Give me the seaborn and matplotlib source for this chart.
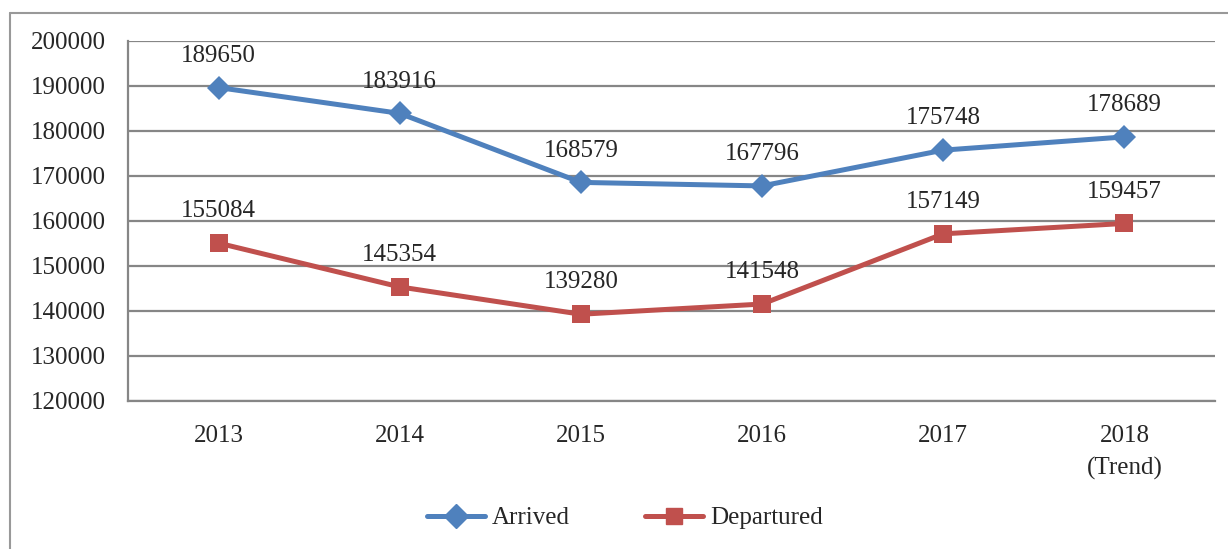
import matplotlib.pyplot as plt
import matplotlib.lines as mlines
import seaborn as sns
import pandas as pd
import numpy as np

sns.set_style('white')
plt.rcParams['font.family'] = ['Liberation Serif', 'DejaVu Serif']

years = ['2013', '2014', '2015', '2016', '2017', '2018\n(Trend)']
arrived = [189650, 183916, 168579, 167796, 175748, 178689]
departured = [155084, 145354, 139280, 141548, 157149, 159457]

blue = '#4F81BD'
red = '#C0504D'
grid_col = '#868686'
mFontSize = 18

df = pd.DataFrame({'year': years * 2,
                   'value': arrived + departured,
                   'series': ['Arrived'] * 6 + ['Departured'] * 6})

fig = plt.figure(figsize=(12.28, 5.49), dpi=100)
ax = fig.add_axes([128/1228, 1 - 401/549, (1215 - 128)/1228, (401 - 41)/549])

sns.lineplot(data=df, x='year', y='value', hue='series', style='series',
             palette=[blue, red], markers=['D', 's'], dashes=False,
             markersize=12.5, linewidth=3.6, markeredgewidth=0, sort=False,
             legend=False, ax=ax)

# data labels
for vals in (arrived, departured):
    for i, v in enumerate(vals):
        ax.annotate(str(v), (i, v), xytext=(0, 15), textcoords='offset points',
                    ha='center', va='bottom', fontsize=mFontSize)

ax.set_xlim(-0.5, 5.5)
ax.set_ylim(120000, 200000)
ax.set_yticks(np.arange(120000, 200001, 10000))
ax.set_xticks(range(6))
ax.set_xticklabels(years)
ax.set_xticks(np.arange(-0.5, 5.6, 1), minor=True)
ax.tick_params(axis='x', which='major', length=0, pad=17, labelsize=mFontSize)
ax.tick_params(axis='x', which='minor', length=6, width=1.5, color=grid_col, direction='out')
ax.tick_params(axis='y', length=6, width=1.5, color=grid_col, direction='out', pad=10, labelsize=mFontSize)
for lbl in ax.get_xticklabels():
    lbl.set_linespacing(1.6)
ax.set_xlabel('')
ax.set_ylabel('')
ax.grid(axis='y', color=grid_col, linewidth=1.6)
ax.set_axisbelow(True)
for s in ['top', 'right']:
    ax.spines[s].set_visible(False)
for s in ['left', 'bottom']:
    ax.spines[s].set_color(grid_col)
    ax.spines[s].set_linewidth(1.6)

handles = [mlines.Line2D([], [], color=blue, marker='D', markersize=12.5, linewidth=3.6, label='Arrived'),
           mlines.Line2D([], [], color=red, marker='s', markersize=12, linewidth=3.6, label='Departured')]
fig.legend(handles=handles, loc='center', bbox_to_anchor=(625/1228, 1 - 518/549), ncol=2,
           frameon=False, fontsize=mFontSize, handlelength=2.3, columnspacing=3.0, handletextpad=0.3)

# outer frame (left and top edges visible)
fig.add_artist(mlines.Line2D([10/1228, 10/1228], [0, 1 - 13/549], transform=fig.transFigure,
                             color='#999999', linewidth=1.5))
fig.add_artist(mlines.Line2D([10/1228, 1], [1 - 13/549, 1 - 13/549], transform=fig.transFigure,
                             color='#999999', linewidth=1.5))

plt.savefig('out.png', dpi=100)
